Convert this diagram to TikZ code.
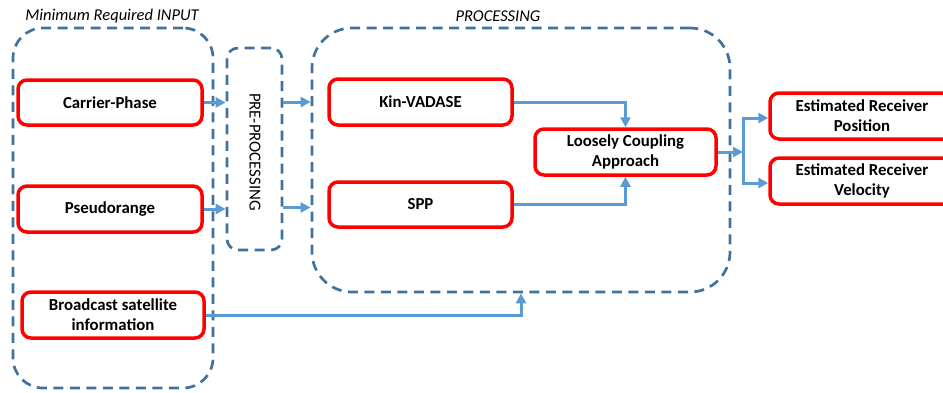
\documentclass[tikz,border=0pt]{standalone}
\usepackage{fontspec}
\setmainfont{Carlito}
\usetikzlibrary{arrows.meta,calc}
\definecolor{boxred}{HTML}{FF0000}
\definecolor{dashblue}{HTML}{41719C}
\definecolor{arrblue}{HTML}{5B9BD5}
\begin{document}
\begin{tikzpicture}[x=1pt,y=-1pt,
  redbox/.style={draw=boxred, line width=3.5pt, rounded corners=9pt, fill=white,
    font=\fontsize{16.8}{20}\selectfont\bfseries, align=center, inner sep=0pt},
  dbox/.style={draw=dashblue, line width=2.7pt, dash pattern=on 10pt off 6.5pt, inner sep=0pt},
  arr/.style={draw=arrblue, line width=3pt, -{Triangle[length=10pt,width=10pt]}},
  lbl/.style={font=\fontsize{16.5}{20}\selectfont\itshape}]
\useasboundingbox (0,0) rectangle (943,392);
% dashed groups
\node[dbox, rounded corners=30pt, minimum width=200pt, minimum height=360pt] (inp) at (113,208) {};
\node[dbox, rounded corners=11pt, minimum width=55pt, minimum height=202pt] (pre) at (254.5,149) {};
\node[dbox, rounded corners=40pt, minimum width=418pt, minimum height=264pt] (proc) at (521,160) {};
\node[rotate=-90, font=\fontsize{16.8}{20}\selectfont] (pretxt) at (255,152) {PRE-PROCESSING};
\node[lbl] (inplbl) at (112,16) {Minimum Required INPUT};
\node[lbl] (proclbl) at (498,16) {PROCESSING};
% red boxes
\node[redbox, minimum width=184pt, minimum height=45pt] (cp) at (110,102.5) {Carrier-Phase};
\node[redbox, minimum width=184pt, minimum height=46pt] (pr) at (110,209) {Pseudorange};
\node[redbox, minimum width=182pt, minimum height=46pt] (bc) at (113,315) {Broadcast satellite\\information};
\node[redbox, minimum width=183pt, minimum height=46pt] (kin) at (420.5,102) {Kin-VADASE};
\node[redbox, minimum width=183pt, minimum height=45pt] (spp) at (420.5,204.5) {SPP};
\node[redbox, minimum width=181pt, minimum height=46pt] (lc) at (625.5,152) {Loosely Coupling\\Approach};
\node[redbox, minimum width=184pt, minimum height=46pt] (pos) at (862,116) {Estimated Receiver\\Position};
\node[redbox, minimum width=184pt, minimum height=46pt] (vel) at (862,181) {Estimated Receiver\\Velocity};
\coordinate (j) at (743,152);
% arrows
\draw[arr] (cp.east) -- (pre.west |- cp.east);
\draw[arr] (pr.east) -- (pre.west |- pr.east);
\draw[arr] (pre.east |- kin.west) -- (proc.west |- kin.west);
\draw[arr] ([yshift=-3pt]pre.east |- spp.west) -- ([yshift=-3pt]proc.west |- spp.west);
\draw[arr] (kin.east) -| (lc.north);
\draw[arr] (spp.east) -| (lc.south);
\draw[arr] (lc.east) -- (j);
\draw[arr] (j) |- ([yshift=-2pt]pos.west);
\draw[arr] (j) |- ([yshift=-2pt]vel.west);
\draw[arr] (bc.east) -| (proc.south);
\end{tikzpicture}
\end{document}
